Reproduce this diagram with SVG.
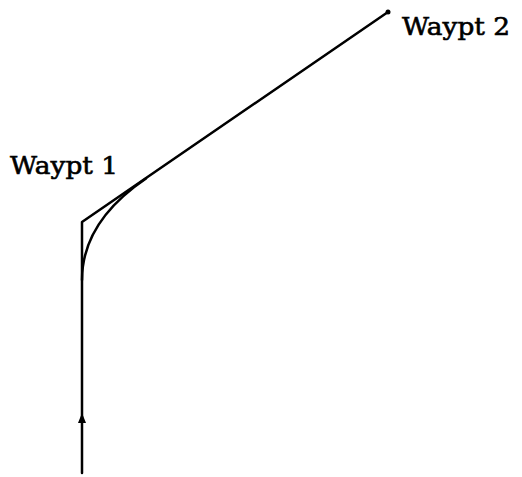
<svg xmlns="http://www.w3.org/2000/svg" width="522" height="477" viewBox="0 0 522 477">
<style>
.ln{fill:none;stroke:#000;stroke-width:2.5;stroke-linecap:round;stroke-linejoin:round}
.lbl{font-family:"DejaVu Serif","Liberation Serif",serif;font-size:24px;fill:#000;stroke:#000;stroke-width:0.6}
</style>
<rect width="522" height="477" fill="#fff"/>
<g id="connectors">
<path class="ln" d="M82,473 L82,222 L388,12"/>
<path class="ln" d="M82,280 Q82,222 146,178.5"/>
<polygon points="82,413 78,423 86,423" fill="#000"/>
</g>
<g id="waypt1">
<text class="lbl" x="10" y="174" textLength="108" lengthAdjust="spacingAndGlyphs">Waypt 1</text>
</g>
<g id="waypt2">
<circle cx="388" cy="12" r="2.5" fill="#000"/>
<text class="lbl" x="402" y="35" textLength="108" lengthAdjust="spacingAndGlyphs">Waypt 2</text>
</g>
</svg>
